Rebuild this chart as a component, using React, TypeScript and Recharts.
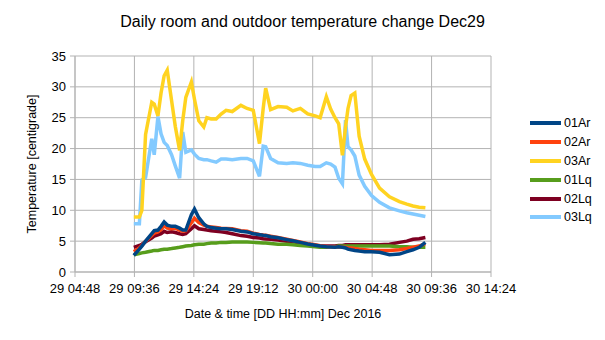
import { CartesianGrid, Line, LineChart, XAxis, YAxis } from "recharts";

// hours counted from 29 Dec 00:00
const hours = [
  9.55, 10.0, 10.2, 10.5, 11.0, 11.2, 11.5, 11.75, 12.0, 12.25, 12.6, 12.9, 13.25, 13.5, 13.75,
  14.2, 14.45, 14.8, 15.2, 15.45, 15.8, 16.2, 16.6, 17.0, 17.5, 18.2, 18.7, 19.2, 19.7, 20.0,
  20.2, 20.6, 21.2, 21.9, 22.4, 23.0, 23.6, 24.2, 24.6, 25.1, 25.45, 25.8, 26.1, 26.4, 26.65,
  26.85, 27.1, 27.4, 27.75, 28.2, 28.75, 29.4, 30.2, 31.0, 31.6, 32.1, 32.6, 33.1,
];

const ar01 = [
  2.7, 3.7, 4.2, 5.0, 6.2, 6.7, 6.8, 7.4, 8.1, 7.6, 7.4, 7.4, 7.1, 6.8, 6.8,
  9.3, 10.2, 8.8, 7.8, 7.4, 7.2, 7.1, 7.0, 7.0, 6.9, 6.6, 6.5, 6.2, 6.05, 5.95,
  5.9, 5.7, 5.55, 5.25, 5.05, 4.8, 4.55, 4.35, 4.2, 4.1, 4.05, 4.0, 4.1, 4.0, 3.9,
  3.7, 3.6, 3.5, 3.4, 3.3, 3.3, 3.2, 2.8, 2.9, 3.3, 3.6, 4.0, 4.8,
];

const ar02 = [
  3.3, 3.9, 4.3, 5.0, 5.9, 6.3, 6.5, 6.9, 7.5, 7.1, 7.0, 7.1, 6.8, 6.6, 6.7,
  8.0, 8.7, 8.0, 7.6, 7.4, 7.3, 7.2, 7.1, 7.05, 7.0, 6.7, 6.6, 6.3, 6.1, 6.0,
  5.95, 5.8, 5.6, 5.3, 5.1, 4.85, 4.6, 4.4, 4.25, 4.15, 4.1, 4.05, 4.1, 4.0, 4.0,
  3.9, 3.9, 3.8, 3.7, 3.6, 3.5, 3.5, 3.5, 3.6, 3.8, 4.0, 4.2, 4.6,
];

const ar03 = [
  8.9, 8.9, 10.0, 22.3, 27.5, 27.2, 25.3, 29.0, 31.8, 32.7, 27.8, 23.6, 19.7, 24.5, 28.3,
  30.8, 28.0, 24.5, 23.5, 25.0, 24.8, 24.8, 25.6, 26.2, 26.0, 27.0, 26.5, 26.2, 20.8, 26.5,
  29.8, 26.3, 26.8, 26.7, 26.1, 26.5, 25.6, 25.3, 25.0, 28.4, 26.4, 25.0, 24.0, 18.9, 23.5,
  26.5, 28.6, 29.0, 22.0, 18.3, 15.8, 13.6, 12.2, 11.4, 11.0, 10.7, 10.5, 10.4,
];

const lq01 = [
  2.8, 3.0, 3.1, 3.2, 3.4, 3.5, 3.5, 3.6, 3.7, 3.7, 3.8, 3.9, 4.0, 4.1, 4.2,
  4.3, 4.4, 4.5, 4.5, 4.6, 4.7, 4.7, 4.8, 4.8, 4.85, 4.85, 4.85, 4.8, 4.75, 4.7,
  4.7, 4.6, 4.5, 4.5, 4.4, 4.3, 4.2, 4.1, 4.0, 4.0, 4.1, 4.1, 4.2, 4.2, 4.2,
  4.2, 4.2, 4.2, 4.2, 4.2, 4.2, 4.2, 4.2, 4.1, 4.1, 4.0, 4.0, 4.0,
];

const lq02 = [
  4.0, 4.3, 4.5, 4.9, 5.5, 5.8, 6.0, 6.2, 6.6, 6.4, 6.5, 6.4, 6.2, 6.1, 6.2,
  7.0, 7.5, 7.0, 6.9, 6.8, 6.7, 6.6, 6.5, 6.4, 6.2, 5.9, 5.8, 5.6, 5.5, 5.4,
  5.35, 5.3, 5.2, 5.0, 4.9, 4.7, 4.5, 4.3, 4.2, 4.2, 4.2, 4.2, 4.3, 4.3, 4.4,
  4.4, 4.4, 4.4, 4.4, 4.4, 4.4, 4.4, 4.5, 4.8, 5.0, 5.3, 5.4, 5.6,
];

const lq03 = [
  7.8, 7.8, 14.9, 15.3, 21.6, 19.0, 25.2, 22.4, 21.0, 20.5, 19.0, 17.2, 15.2, 22.7, 19.4,
  19.8, 19.1, 18.4, 18.2, 18.2, 18.0, 17.8, 18.3, 18.3, 18.2, 18.4, 18.4, 18.0, 15.5, 20.4,
  20.3, 18.4, 17.7, 17.6, 17.7, 17.6, 17.3, 17.1, 17.1, 17.7, 17.5, 17.0, 15.2, 14.3, 24.6,
  20.3, 19.8, 18.8, 15.7, 13.9, 12.4, 11.3, 10.4, 9.9, 9.6, 9.4, 9.2, 9.0,
];

const seriesNames = ["01Ar", "02Ar", "03Ar", "01Lq", "02Lq", "03Lq"];
const seriesColors = ["#004586", "#ff420e", "#ffd320", "#579d1c", "#7e0021", "#83caff"];
const seriesValues = [ar01, ar02, ar03, lq01, lq02, lq03];

const xTicks = [4.8, 9.6, 14.4, 19.2, 24, 28.8, 33.6, 38.4];
const yTicks = [0, 5, 10, 15, 20, 25, 30, 35];

const rows = hours.map((h, i) => {
  const row: Record<string, number> = { h };
  seriesNames.forEach((name, s) => {
    row[name] = seriesValues[s][i];
  });
  return row;
});

const pad = (n: number) => String(n).padStart(2, "0");

function fmtTime(h: number) {
  const totalMin = Math.round(h * 60);
  const day = 29 + Math.floor(totalMin / 1440);
  const rest = totalMin % 1440;
  return `${day} ${pad(Math.floor(rest / 60))}:${pad(rest % 60)}`;
}

const font = "'Liberation Sans', Arial, sans-serif";
const gridColor = "#b3b3b3";

export default function App() {
  // draw 01Ar last so it sits on top
  const order = [5, 4, 3, 2, 1, 0];
  return (
    <div style={{ position: "relative", width: 605, height: 340, fontFamily: font, background: "#fff" }}>
      <style>{"body{margin:0}"}</style>
      <div
        style={{
          position: "absolute",
          top: 12,
          left: 0,
          width: 605,
          textAlign: "center",
          fontSize: 16,
          color: "#000",
          lineHeight: "20px",
        }}
      >
        Daily room and outdoor temperature change Dec29
      </div>
      <LineChart
        width={605}
        height={340}
        data={rows}
        margin={{ top: 56, right: 114, bottom: 0, left: 0 }}
      >
        <CartesianGrid stroke={gridColor} strokeWidth={1} />
        <XAxis
          dataKey="h"
          type="number"
          domain={[4.8, 38.4]}
          ticks={xTicks}
          tickFormatter={fmtTime}
          interval={0}
          height={68}
          stroke={gridColor}
          tickSize={5}
          tickMargin={7}
          tick={{ fill: "#000", fontSize: 13, fontFamily: font }}
          label={{
            value: "Date & time [DD HH:mm] Dec 2016",
            position: "insideBottom",
            offset: 22,
            style: { fill: "#000", fontSize: 12.5, fontFamily: font },
          }}
        />
        <YAxis
          type="number"
          domain={[0, 35]}
          ticks={yTicks}
          width={75}
          stroke={gridColor}
          tickSize={5}
          tickMargin={4}
          tick={{ fill: "#000", fontSize: 13, fontFamily: font }}
          label={{
            value: "Temperature [centigrade]",
            angle: -90,
            position: "insideLeft",
            offset: 32,
            style: { fill: "#000", fontSize: 12.5, fontFamily: font, textAnchor: "middle" },
          }}
        />
        {order.map((s) => (
          <Line
            key={seriesNames[s]}
            dataKey={seriesNames[s]}
            type="linear"
            stroke={seriesColors[s]}
            strokeWidth={3.5}
            dot={false}
            isAnimationActive={false}
          />
        ))}
      </LineChart>
      <div style={{ position: "absolute", left: 530, top: 114, fontSize: 12.5, color: "#000" }}>
        {seriesNames.map((name, s) => (
          <div key={name} style={{ display: "flex", alignItems: "center", height: 18.8 }}>
            <div style={{ width: 31, height: 4, background: seriesColors[s], marginRight: 3 }} />
            <span>{name}</span>
          </div>
        ))}
      </div>
    </div>
  );
}
